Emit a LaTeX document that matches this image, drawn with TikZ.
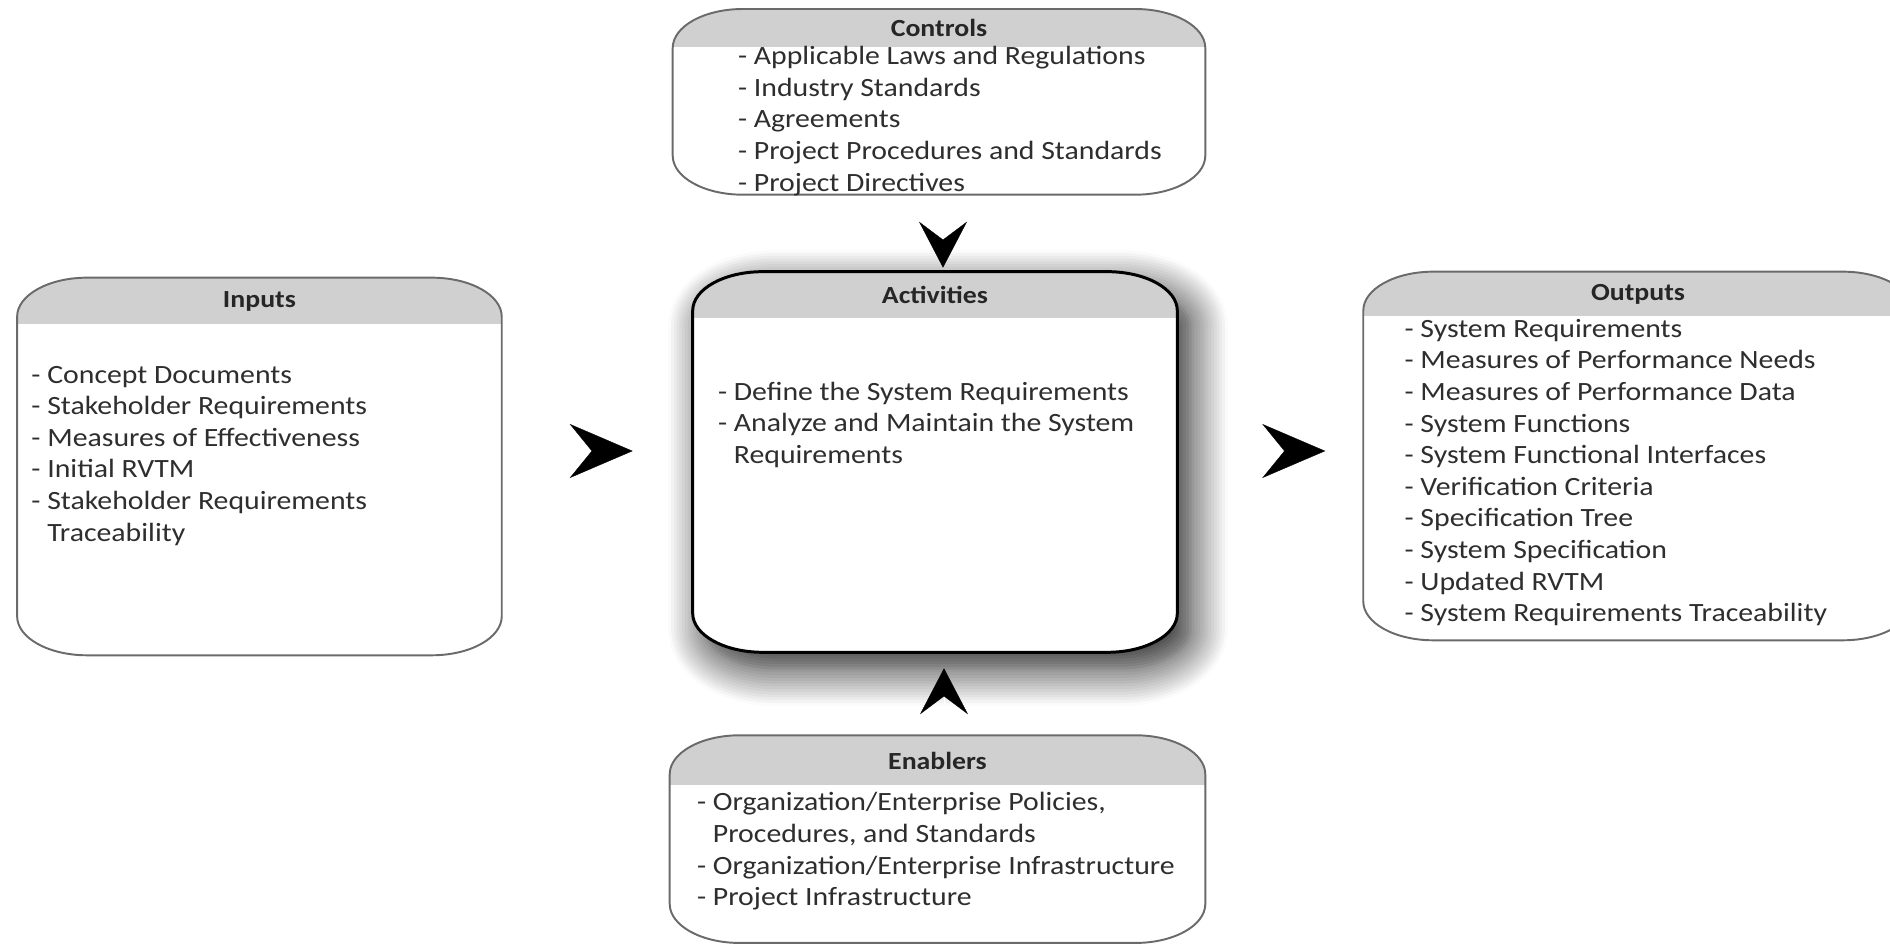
\documentclass[tikz,border=0pt]{standalone}
\usepackage{fontspec}
\setmainfont{Carlito}[FakeStretch=1.13]
\usepackage{tikz}
\usetikzlibrary{positioning,calc,arrows.meta,shadows.blur}

\definecolor{hdrgray}{HTML}{D0D0D0}
\definecolor{rimgray}{HTML}{6A6A6A}
\definecolor{txtgray}{HTML}{2E2E2E}

% elliptic corners of the panels
\newcommand{\cornx}{1.4cm}
\newcommand{\corny}{0.78cm}
\newcommand{\panelpath}[1]{let \p1=(#1.south west), \p2=(#1.north east) in
  (\x1+\cornx,\y1) -- (\x2-\cornx,\y1)
  arc[start angle=-90, end angle=0, x radius=\cornx, y radius=\corny]
  -- (\x2,\y2-\corny)
  arc[start angle=0, end angle=90, x radius=\cornx, y radius=\corny]
  -- (\x1+\cornx,\y2)
  arc[start angle=90, end angle=180, x radius=\cornx, y radius=\corny]
  -- (\x1,\y1+\corny)
  arc[start angle=180, end angle=270, x radius=\cornx, y radius=\corny]
  -- cycle}
\newcommand{\drawpanel}[3]{%
  \fill[white] \panelpath{#1};
  \begin{scope}
    \clip \panelpath{#1};
    \fill[hdrgray] (#1.north west) rectangle ([yshift=-#2]#1.north east);
  \end{scope}
  \draw[#3] \panelpath{#1};
}

\begin{document}
\begin{tikzpicture}[x=0.02cm, y=0.02cm]
        \tikzstyle{every node}=[inner sep=0pt, text=txtgray]
        \tikzstyle{panel}=[minimum width=9.68cm, minimum height=7.6cm]
        \tikzstyle{title}=[font=\fontsize{14}{16}\selectfont\bfseries, text=black!85, minimum height=0.92cm]
        \tikzstyle{items}=[align=left, font=\fontsize{15}{18}\selectfont]
        \tikzstyle{rim}=[draw=rimgray, line width=1.1pt]
        \tikzstyle{hflow}=[draw=white, line width=0.2pt, -{Stealth[color=black, length=1.26cm, width=1.08cm, inset=0.44cm]}]
        \tikzstyle{vflow}=[draw=white, line width=0.2pt, -{Stealth[color=black, length=0.92cm, width=0.96cm, inset=0.36cm]}]

        \useasboundingbox (0,0) rectangle (1890,945);

        \node (act) [panel] at (935,483) {};
        \node (ctl) [panel, minimum width=10.64cm, minimum height=3.7cm, above=1.54cm of act, xshift=0.08cm] {};
        \node (enb) [panel, minimum width=10.7cm, minimum height=4.14cm, below=1.66cm of act, xshift=0.05cm] {};
        \node (inp) [panel, minimum height=7.54cm, left=3.82cm of act, yshift=-0.09cm] {};
        \node (out) [panel, minimum width=10.98cm, minimum height=7.36cm, right=3.72cm of act, yshift=0.12cm] {};

        \fill[white, blur shadow={shadow xshift=0.26cm, shadow yshift=-0.32cm, shadow blur radius=0.75cm, shadow blur steps=14, shadow opacity=90}] \panelpath{act};
        \drawpanel{act}{0.92cm}{draw=black, line width=1.7pt}
        \drawpanel{ctl}{0.76cm}{rim}
        \drawpanel{enb}{1.0cm}{rim}
        \drawpanel{inp}{0.92cm}{rim}
        \drawpanel{out}{0.88cm}{rim}

        \node (act title) [title, below=0pt of act.north] {Activities};
        \node (ctl title) [title, minimum height=0.76cm, below=0pt of ctl.north] {Controls};
        \node (enb title) [title, minimum height=1.0cm, below=0pt of enb.north] {Enablers};
        \node (inp title) [title, below=0pt of inp.north] {Inputs};
        \node (out title) [title, minimum height=0.88cm, below=0pt of out.north] {Outputs};

        \node (act list) [items, below right=2.2cm and 0.5cm of act.north west]
            {- Define the System Requirements\\- Analyze and Maintain the System\\\phantom{- }Requirements};
        \node (ctl list) [items, below right=0.74cm and 1.3cm of ctl.north west]
            {- Applicable Laws and Regulations\\- Industry Standards\\- Agreements\\- Project Procedures and Standards\\- Project Directives};
        \node (enb list) [items, below right=1.14cm and 0.54cm of enb.north west]
            {- Organization/Enterprise Policies,\\\phantom{- }Procedures, and Standards\\- Organization/Enterprise Infrastructure\\- Project Infrastructure};
        \node (inp list) [items, below right=1.76cm and 0.28cm of inp.north west]
            {- Concept Documents\\- Stakeholder Requirements\\- Measures of Effectiveness\\- Initial RVTM\\- Stakeholder Requirements\\\phantom{- }Traceability};
        \node (out list) [items, below right=0.94cm and 0.82cm of out.north west]
            {- System Requirements\\- Measures of Performance Needs\\- Measures of Performance Data\\- System Functions\\- System Functional Interfaces\\- Verification Criteria\\- Specification Tree\\- System Specification\\- Updated RVTM\\- System Requirements Traceability};

        \draw[hflow, shorten <=1.36cm, shorten >=1.2cm, transform canvas={yshift=0.22cm}] (inp.east |- act.west) -- (act.west);
        \draw[hflow, shorten <=1.66cm, shorten >=0.76cm, transform canvas={yshift=0.22cm}] (act.east) -- (act.east -| out.west);
        \draw[vflow, shorten <=0.54cm, shorten >=0.08cm, transform canvas={xshift=0.16cm}] (ctl.south -| act.north) -- (act.north);
        \draw[vflow, shorten <=0.4cm, shorten >=0.32cm, transform canvas={xshift=0.18cm}] (enb.north -| act.south) -- (act.south);
\end{tikzpicture}
\end{document}
